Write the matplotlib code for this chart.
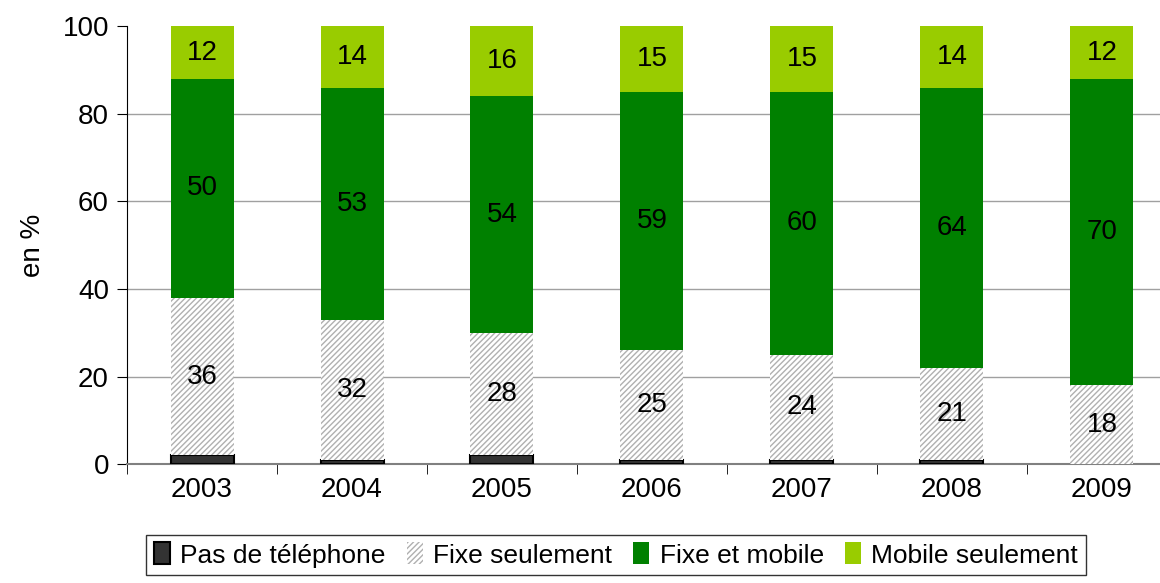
import matplotlib.pyplot as plt
import numpy as np

plt.rcParams['font.family'] = ['Liberation Sans', 'DejaVu Sans']
plt.rcParams['hatch.linewidth'] = 1.0

annees = ['2003', '2004', '2005', '2006', '2007', '2008', '2009']
pas_de_tel = [2, 1, 2, 1, 1, 1, 0]
fixe_seul = [36, 32, 28, 25, 24, 21, 18]
fixe_mobile = [50, 53, 54, 59, 60, 64, 70]
mobile_seul = [12, 14, 16, 15, 15, 14, 12]

fig = plt.figure(figsize=(11.6, 5.83), dpi=100)
ax = fig.add_axes([0.1095, 0.204, 0.8905, 0.751])

x = np.arange(len(annees))
w = 0.42

# barres empilées
ax.bar(x, pas_de_tel, w, color='#333333', edgecolor='black', linewidth=1.5,
       label='Pas de téléphone', zorder=3)
ax.bar(x, fixe_seul, w, bottom=pas_de_tel, color='white', edgecolor='#b0b0b0',
       hatch='//////', linewidth=0, label='Fixe seulement', zorder=3)
b2 = np.array(pas_de_tel) + np.array(fixe_seul)
ax.bar(x, fixe_mobile, w, bottom=b2, color='#008000', linewidth=0,
       label='Fixe et mobile', zorder=3)
b3 = b2 + np.array(fixe_mobile)
ax.bar(x, mobile_seul, w, bottom=b3, color='#99cc00', linewidth=0,
       label='Mobile seulement', zorder=3)

# étiquettes
for i in range(len(annees)):
    ax.text(x[i], pas_de_tel[i] + fixe_seul[i] / 2, str(fixe_seul[i]),
            ha='center', va='center', fontsize=20, zorder=4)
    ax.text(x[i], b2[i] + fixe_mobile[i] / 2, str(fixe_mobile[i]),
            ha='center', va='center', fontsize=20, zorder=4)
    ax.text(x[i], b3[i] + mobile_seul[i] / 2, str(mobile_seul[i]),
            ha='center', va='center', fontsize=20, zorder=4)

ax.set_yticks([0, 20, 40, 60, 80, 100])
for yv in [20, 40, 60, 80]:
    ax.axhline(yv, color='#a0a0a0', linewidth=1, zorder=1)

ax.set_xticks(x)
ax.set_xticklabels(annees)
ax.set_xticks(np.arange(-0.5, 7, 1), minor=True)
ax.set_xlim(-0.5, 6.387)
ax.set_ylim(0, 100)
ax.tick_params(axis='x', which='major', length=0, labelsize=20, pad=9)
ax.tick_params(axis='x', which='minor', length=7, color='black')
ax.tick_params(axis='y', labelsize=20, length=7, pad=6)

ax.spines['top'].set_visible(False)
ax.spines['right'].set_visible(False)
ax.spines['bottom'].set_color('#808080')
ax.spines['bottom'].set_linewidth(1.5)
ax.spines['left'].set_color('black')

ax.set_ylabel('en %', fontsize=20, labelpad=12)

leg = fig.legend(loc='center', bbox_to_anchor=(0.531, 0.048), ncol=4,
                 fontsize=19, frameon=True, fancybox=False, edgecolor='black',
                 handlelength=0.6, handleheight=0.9, handletextpad=0.4,
                 columnspacing=0.8, borderpad=0.3, borderaxespad=0)
leg.get_frame().set_linewidth(1)

fig.savefig('out.png', dpi=100)
